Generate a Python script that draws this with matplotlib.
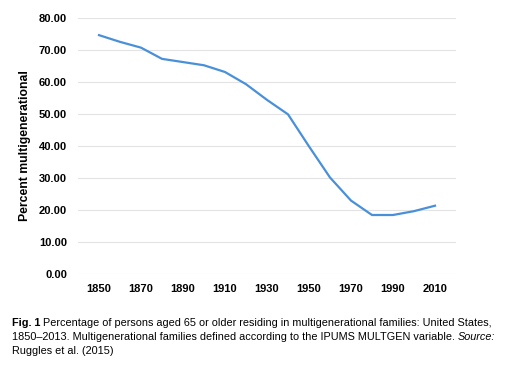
import numpy as np
import matplotlib.pyplot as plt

# datos
years = [1850, 1860, 1870, 1880, 1890, 1900, 1910, 1920, 1930, 1940,
         1950, 1960, 1970, 1980, 1990, 2000, 2010]
pct = [74.5, 72.4, 70.6, 67.1, 66.1, 65.1, 63.0, 59.2, 54.3, 49.8,
       39.8, 30.1, 22.9, 18.4, 18.4, 19.6, 21.3]
yticks = np.arange(0, 81, 10)
xticks = np.arange(1850, 2011, 20)

plt.rcParams['font.family'] = ['Liberation Sans', 'DejaVu Sans']

fig = plt.figure(figsize=(5.05, 3.65), dpi=100)
ax = fig.add_axes([78/505, 1 - 274/365, (456 - 78)/505, (274 - 17.5)/365])

ax.plot(years, pct, color="#4a90d9", lw=1.6, solid_joinstyle="round")
ax.set_xlim(1840, 2020)
ax.set_ylim(0, 80)
ax.set_yticks(yticks)
ax.set_yticklabels([f"{v:.2f}" for v in yticks], fontweight="bold", fontsize=8)
ax.set_xticks(xticks)
ax.set_xticklabels([str(v) for v in xticks], fontweight="bold", fontsize=8)
ax.tick_params(length=0, pad=7)
ax.tick_params(axis="y", pad=8)
ax.grid(axis="y", color="#e3e3e3", lw=0.8)
for s in ax.spines.values():
    s.set_visible(False)
ax.set_ylabel("Percent multigenerational", fontweight="bold", fontsize=8.8)
ax.yaxis.set_label_coords(-0.125, 0.5)

# pie de figura con partes en negrita / cursiva
line1a = "Fig. 1"
line1b = " Percentage of persons aged 65 or older residing in multigenerational families: United States,"
line2a = "1850\u20132013. Multigenerational families defined according to the IPUMS MULTGEN variable. "
line2b = "Source:"
line3 = "Ruggles et al. (2015)"

fig.canvas.draw()
r = fig.canvas.get_renderer()
x0 = 12 / 505

# ajustar el tamaño para que la primera linea termine en x=489
fs = 8.3
ta = fig.text(0, 0, line1a, fontweight="bold", fontsize=fs)
tb = fig.text(0, 0, line1b, fontsize=fs)
wtot = ta.get_window_extent(r).width + tb.get_window_extent(r).width
fs = fs * (489 - 12) / wtot
ta.remove()
tb.remove()

t = fig.text(x0, 1 - 323/365, line1a, fontweight="bold", fontsize=fs, va="center")
w = t.get_window_extent(r).width / 505
fig.text(x0 + w, 1 - 323/365, line1b, fontsize=fs, va="center")
t2 = fig.text(x0, 1 - 337/365, line2a, fontsize=fs, va="center")
w2 = t2.get_window_extent(r).width / 505
fig.text(x0 + w2, 1 - 337/365, line2b, fontstyle="italic", fontsize=fs, va="center")
fig.text(x0, 1 - 351/365, line3, fontsize=fs, va="center")

fig.savefig("out.png", dpi=100)
